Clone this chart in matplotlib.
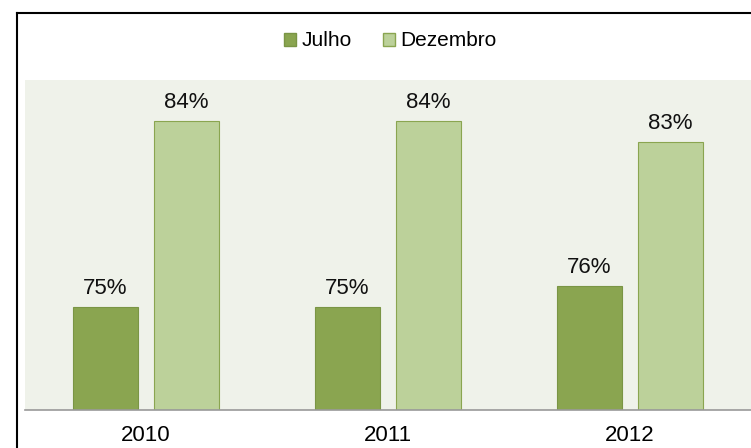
import numpy as np
import matplotlib.pyplot as plt
from matplotlib.lines import Line2D
from matplotlib.patches import Patch

plt.rcParams['font.family'] = ['Liberation Sans', 'DejaVu Sans']

years = ['2010', '2011', '2012']
julho = [75, 75, 76]
dezembro = [84, 84, 83]

c_jul = '#8aa550'
c_dez = '#bcd19a'

fig = plt.figure(figsize=(7.51, 4.48), dpi=100)
ax = fig.add_axes([25/751, 38/448, 726/751, 330/448])
ax.set_facecolor('#eff2ea')

x = np.arange(len(years))
w = 0.27
off = 0.167
b1 = ax.bar(x - off, julho, w, color=c_jul, edgecolor='#7a9545', linewidth=0.8)
b2 = ax.bar(x + off, dezembro, w, color=c_dez, edgecolor='#8aa550', linewidth=0.8)

ax.set_ylim(70, 86)
ax.set_xlim(-0.5, 2.5)

for bars, vals in ((b1, julho), (b2, dezembro)):
    for b, v in zip(bars, vals):
        ax.text(b.get_x() + b.get_width()/2, v + 0.63, f'{v}%', ha='center',
                va='baseline', fontsize=16, color='#111111')

for s in ['top', 'right', 'left']:
    ax.spines[s].set_visible(False)
ax.spines['bottom'].set_color('#999999')
ax.spines['bottom'].set_linewidth(1.2)
ax.set_yticks([])
ax.set_xticks(x)
ax.set_xticklabels(years, fontsize=16)
ax.tick_params(axis='x', length=0, pad=11)

handles = [Patch(facecolor=c_jul, edgecolor='#7a9545', label='Julho'),
           Patch(facecolor=c_dez, edgecolor='#8aa550', label='Dezembro')]
fig.legend(handles=handles, loc='center', bbox_to_anchor=(390/751, 1 - 41/448),
           ncol=2, frameon=False, fontsize=15, handlelength=0.58,
           handleheight=0.58, handletextpad=0.25, columnspacing=1.5)

# outer frame (cut off at right and bottom)
fig.add_artist(Line2D([17/751, 17/751], [0, 1 - 13/448], color='black', lw=1.5,
                      transform=fig.transFigure))
fig.add_artist(Line2D([17/751, 1], [1 - 13/448, 1 - 13/448], color='black', lw=1.5,
                      transform=fig.transFigure))

fig.savefig('out.png', dpi=100, facecolor='white')
